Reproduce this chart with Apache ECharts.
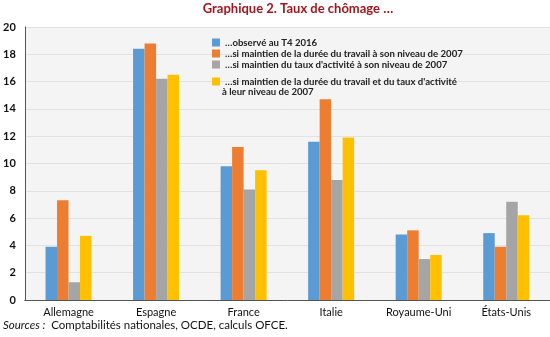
<!DOCTYPE html>
<html><head><meta charset="utf-8">
<script src="https://cdn.jsdelivr.net/npm/echarts@6/dist/echarts.min.js"></script>
<style>html,body{margin:0;padding:0;background:#fff}#c{width:550px;height:337px}</style>
</head><body><div id="c"></div>
<script>
const categories = ['Allemagne','Espagne','France','Italie','Royaume-Uni','États-Unis'];
const seriesNames = [
  '…observé au T4 2016',
  '…si maintien de la durée du travail à son niveau de 2007',
  '…si maintien du taux d\'activité à son niveau de 2007',
  '…si maintien de la durée du travail et du taux d\'activité'
];
const legendSecondLine = 'à leur niveau de 2007';
const observe = [3.9, 18.4, 9.8, 11.6, 4.8, 4.9];
const dureeTravail = [7.3, 18.8, 11.2, 14.7, 5.1, 3.9];
const tauxActivite = [1.3, 16.2, 8.1, 8.8, 3.0, 7.2];
const dureeEtTaux = [4.7, 16.5, 9.5, 11.9, 3.3, 6.2];
const yTicks = [0,2,4,6,8,10,12,14,16,18,20];
const colors = ['#5B9BD5','#ED7D31','#A5A5A5','#FFC000'];
const values = [observe, dureeTravail, tauxActivite, dureeEtTaux];

const chart = echarts.init(document.getElementById('c'), null, {renderer:'canvas'});
const font = 'Lato, Open Sans, sans-serif';
const legendText = {fontSize:9.6, color:'#222', fontFamily:font, fontWeight:'bold', lineHeight:11};
chart.setOption({
  animation:false,
  color: colors,
  title:{
    text:'Graphique 2. Taux de chômage …',
    left:293, top:-3, textAlign:'center',
    textStyle:{color:'#A3161D', fontSize:13, fontWeight:'bold', fontFamily:font}
  },
  legend:[{
    orient:'vertical', left:207, top:32, itemWidth:8, itemHeight:8, itemGap:0,
    icon:'rect', textStyle:legendText,
    data: seriesNames.slice(0,3)
  },{
    orient:'vertical', left:207, top:71, itemWidth:8, itemHeight:8, itemGap:0,
    icon:'rect', textStyle:legendText,
    data: seriesNames.slice(3)
  }],
  grid:{left:24, right:0, top:27, bottom:37, show:true, backgroundColor:'#F4F4F4', borderWidth:0},
  xAxis:{
    type:'category', data:categories,
    axisLine:{lineStyle:{color:'#555', width:1}},
    axisTick:{show:false},
    axisLabel:{color:'#111', fontSize:11, fontFamily:font, margin:7, interval:0}
  },
  yAxis:{
    type:'value', min:yTicks[0], max:yTicks[yTicks.length-1], interval:2,
    axisLine:{show:true, lineStyle:{color:'#555', width:1}},
    axisTick:{show:false},
    splitLine:{lineStyle:{color:'#E2E2E2', width:1}},
    axisLabel:{color:'#111', fontSize:11, fontWeight:'bold', fontFamily:font, margin:9}
  },
  graphic:[{
    type:'text', left:222, top:87,
    style:{text:legendSecondLine, fontSize:9.6, fontWeight:'bold', fontFamily:font, fill:'#222'}
  },{
    type:'text', left:3, top:319,
    style:{
      text:'{i|Sources :}  Comptabilités nationales, OCDE, calculs OFCE.',
      rich:{i:{fontStyle:'italic', fontSize:11.5, fontFamily:font, fill:'#111'}},
      fontSize:11.5, fontFamily:font, fill:'#111'
    }
  }],
  series: values.map((v,i)=>({
    name: seriesNames[i], type:'bar', data:v,
    barWidth:11.5, barGap:'0%',
    itemStyle:{color:colors[i]}
  }))
});
</script></body></html>
